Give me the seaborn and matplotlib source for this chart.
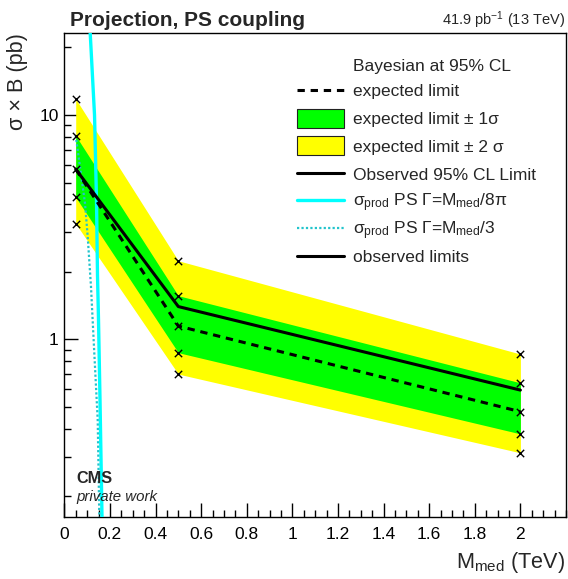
import numpy as np
import pandas as pd
import matplotlib
matplotlib.use("Agg")
import matplotlib.pyplot as plt
import seaborn as sns
from matplotlib.lines import Line2D
from matplotlib.patches import Rectangle
from matplotlib.ticker import FixedLocator, FixedFormatter, MultipleLocator, LogLocator, NullFormatter

# ---------------- data ----------------
masses = [0.05, 0.5, 2.0]
exp_minus2 = [3.28, 0.70, 0.312]
exp_minus1 = [4.30, 0.872, 0.379]
exp_median = [5.74, 1.146, 0.476]
exp_plus1 = [8.09, 1.565, 0.640]
exp_plus2 = [11.8, 2.24, 0.860]
observed = [5.74, 1.40, 0.594]

xsec_8pi_mass = [0.110, 0.1136, 0.1325, 0.1412, 0.1456, 0.150, 0.1566, 0.1654, 0.167]
xsec_8pi = [27.0, 23.2, 10.0, 4.18, 1.93, 1.22, 0.536, 0.161, 0.14]

xsec_3_mass = [0.05, 0.0908, 0.1026, 0.117, 0.1316, 0.1465, 0.1535, 0.155]
xsec_3 = [8.1, 4.04, 2.87, 1.72, 0.866, 0.437, 0.162, 0.14]

x_ticks = [0, 0.2, 0.4, 0.6, 0.8, 1.0, 1.2, 1.4, 1.6, 1.8, 2.0]
x_tick_labels = ["0", "0.2", "0.4", "0.6", "0.8", "1", "1.2", "1.4", "1.6", "1.8", "2"]
y_ticks = [1, 10]
y_tick_labels = ["1", "10"]

legend_labels = [
    "Bayesian at 95% CL",
    "expected limit",
    "expected limit ± 1σ",
    "expected limit ± 2 σ",
    "Observed 95% CL Limit",
    r"σ$_{\mathrm{prod}}$ PS Γ=M$_{\mathrm{med}}$/8π",
    r"σ$_{\mathrm{prod}}$ PS Γ=M$_{\mathrm{med}}$/3",
    "observed limits",
]
legend_kinds = ["none", "dash", "green", "yellow", "solid", "cyan", "cyandot", "solid"]

# ---------------- style ----------------
sns.set_theme(style="ticks")
plt.rcParams["font.family"] = ["Liberation Sans", "DejaVu Sans"]
plt.rcParams["mathtext.fontset"] = "custom"
plt.rcParams["mathtext.rm"] = "Liberation Sans"
plt.rcParams["mathtext.it"] = "Liberation Sans:italic"
plt.rcParams["mathtext.bf"] = "Liberation Sans:bold"
plt.rcParams["axes.linewidth"] = 1.0
plt.rcParams["axes.edgecolor"] = "black"

W, H = 568, 579
fig = plt.figure(figsize=(W / 100, H / 100), dpi=100)
L, R, T, B = 64.3, 566.0, 33.0, 517.3
ax = fig.add_axes([L / W, 1 - B / H, (R - L) / W, (B - T) / H])
ax.set_yscale("log")

YELLOW = "#ffff00"
GREEN = "#00ff00"
CYAN = "#00ffff"
CYAN_DOT = "#22c4cc"
DASH = (0, (2.4, 1.9))
DOT = (0, (1, 1))

ax.fill_between(masses, exp_minus2, exp_plus2, color=YELLOW, lw=0, zorder=1)
ax.fill_between(masses, exp_minus1, exp_plus1, color=GREEN, lw=0, zorder=2)

sns.lineplot(x=masses, y=exp_median, ax=ax, color="black", lw=2.2, linestyle=DASH, zorder=4)
sns.lineplot(x=masses, y=observed, ax=ax, color="black", lw=2.2, zorder=4)
sns.lineplot(x=xsec_8pi_mass, y=xsec_8pi, ax=ax, color=CYAN, lw=2.4, zorder=3, sort=False)
sns.lineplot(x=xsec_3_mass, y=xsec_3, ax=ax, color=CYAN_DOT, lw=1.6, linestyle=DOT, zorder=3, sort=False)

cross_df = pd.DataFrame({
    "m": masses * 5,
    "v": exp_minus2 + exp_minus1 + exp_median + exp_plus1 + exp_plus2,
})
sns.scatterplot(data=cross_df, x="m", y="v", ax=ax, marker="x", color="black",
                s=28, linewidth=1.0, zorder=6, legend=False)

ax.set_xlim(0, 2.2)
ax.set_ylim(0.161, 23.2)
ax.set_xlabel("")
ax.set_ylabel("")

ax.xaxis.set_major_locator(FixedLocator(x_ticks))
ax.xaxis.set_major_formatter(FixedFormatter(x_tick_labels))
ax.xaxis.set_minor_locator(MultipleLocator(0.05))
ax.yaxis.set_major_locator(FixedLocator(y_ticks))
ax.yaxis.set_major_formatter(FixedFormatter(y_tick_labels))
ax.yaxis.set_minor_locator(LogLocator(base=10, subs=np.arange(2, 10)))
ax.yaxis.set_minor_formatter(NullFormatter())
ax.tick_params(which="both", direction="in", top=False, right=False, width=1.0, color="black",
               labelsize=12.5, labelcolor="black")
ax.tick_params(which="major", length=10)
ax.tick_params(which="minor", length=5)
ax.tick_params(axis="x", which="major", pad=7)
ax.tick_params(axis="y", which="major", pad=4)
for s in ax.spines.values():
    s.set_visible(True)
    s.set_color("black")

# ---------------- legend (ROOT TLegend look, no frame) ----------------
row_y = [65, 90, 118, 145.5, 173.3, 200, 227.7, 256]
hx0, hx1, tx = 297, 344, 353
fs_leg = 12.5
for yc, kind, lab in zip(row_y, legend_kinds, legend_labels):
    yf = 1 - yc / H
    if kind in ("green", "yellow"):
        col = GREEN if kind == "green" else YELLOW
        fig.add_artist(Rectangle((hx0 / W, 1 - (yc + 9.5) / H), (hx1 - hx0) / W, 19 / H,
                                 transform=fig.transFigure, facecolor=col,
                                 edgecolor="#222222", lw=0.8))
    elif kind != "none":
        style = {"dash": dict(color="black", lw=2.2, linestyle=DASH),
                 "solid": dict(color="black", lw=2.2),
                 "cyan": dict(color=CYAN, lw=2.4),
                 "cyandot": dict(color=CYAN_DOT, lw=1.6, linestyle=DOT)}[kind]
        fig.add_artist(Line2D([hx0 / W, hx1 / W], [yf, yf], transform=fig.transFigure, **style))
    fig.text(tx / W, 1 - (yc + 6.3) / H, lab, fontsize=fs_leg, va="baseline", ha="left")

# ---------------- texts ----------------
fig.text(70 / W, 1 - 26 / H, "Projection, PS coupling", fontsize=15.0, fontweight="bold",
         va="baseline", ha="left")
fig.text(565 / W, 1 - 25 / H, r"41.9 pb$^{-1}$ (13 TeV)", fontsize=10.5, va="baseline", ha="right")
fig.text(76 / W, 1 - 483 / H, "CMS", fontsize=11.7, fontweight="bold", va="baseline", ha="left")
fig.text(76 / W, 1 - 501 / H, "private work", fontsize=10.8, style="italic", va="baseline", ha="left")
fig.text(565 / W, 1 - 568 / H, r"M$_{\mathrm{med}}$ (TeV)", fontsize=15.6, va="baseline", ha="right")
fig.text(28 / W, 1 - 33 / H, "σ × B (pb)", fontsize=15.6, rotation=90, va="top", ha="right")

fig.savefig("out.png", dpi=100)
